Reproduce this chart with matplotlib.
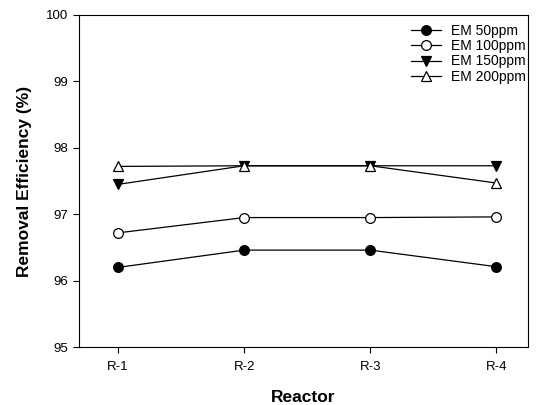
import matplotlib
matplotlib.use("Agg")
import matplotlib.pyplot as plt

plt.rcParams["font.family"] = ["Liberation Sans", "DejaVu Sans"]

reactors = ["R-1", "R-2", "R-3", "R-4"]
em_50 = [96.20, 96.46, 96.46, 96.21]
em_100 = [96.72, 96.95, 96.95, 96.96]
em_150 = [97.45, 97.73, 97.73, 97.73]
em_200 = [97.72, 97.73, 97.73, 97.47]

fig = plt.figure(figsize=(5.41, 4.05), dpi=100)
ax = fig.add_axes([0.146, 0.143, 0.830, 0.820])

x = list(range(1, len(reactors) + 1))
common = dict(color="black", linewidth=0.9, markersize=7, markeredgewidth=0.9)
ax.plot(x, em_50, marker="o", markerfacecolor="black", label="EM 50ppm", **common)
ax.plot(x, em_100, marker="o", markerfacecolor="white", label="EM 100ppm", **common)
ax.plot(x, em_150, marker="v", markerfacecolor="black", label="EM 150ppm", **common)
ax.plot(x, em_200, marker="^", markerfacecolor="white", label="EM 200ppm", **common)

ax.set_xlim(0.69, 4.25)
ax.set_ylim(95, 100)
ax.set_xticks(x)
ax.set_xticklabels(reactors)
ax.set_yticks([95, 96, 97, 98, 99, 100])
ax.tick_params(direction="out", length=4, labelsize=9.5)
ax.tick_params(axis="x", pad=6)
ax.set_xlabel("Reactor", fontsize=12.5, fontweight="bold", labelpad=12)
ax.set_ylabel("Removal Efficiency (%)", fontsize=12.5, fontweight="bold")
ax.yaxis.set_label_coords(-0.105, 0.5)

ax.legend(loc="upper right", bbox_to_anchor=(1.0, 0.98), frameon=False,
          fontsize=10, handlelength=2.15, handletextpad=0.7,
          labelspacing=0.1, borderpad=0.15, borderaxespad=0.0)

fig.savefig("out.png", dpi=100)
